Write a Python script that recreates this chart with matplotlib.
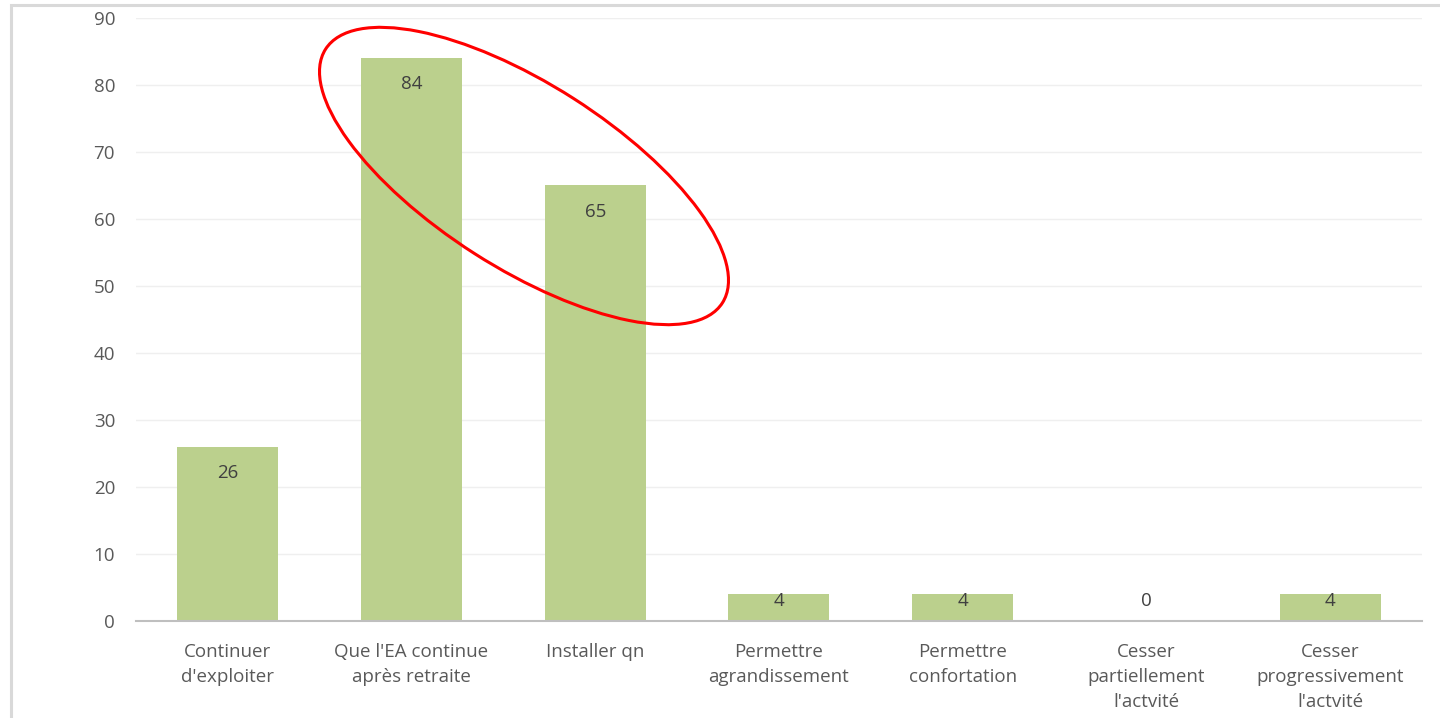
import matplotlib
matplotlib.use("Agg")
import matplotlib.pyplot as plt
from matplotlib.patches import Ellipse, Rectangle
from matplotlib.transforms import IdentityTransform

categories = [
    "Continuer\nd'exploiter",
    "Que l'EA continue\naprès retraite",
    "Installer qn",
    "Permettre\nagrandissement",
    "Permettre\nconfortation",
    "Cesser\npartiellement\nl'actvité",
    "Cesser\nprogressivement\nl'actvité",
]
values = [26, 84, 65, 4, 4, 0, 4]
y_ticks = [0, 10, 20, 30, 40, 50, 60, 70, 80, 90]

plt.rcParams['font.family'] = ['Open Sans', 'DejaVu Sans']

fig = plt.figure(figsize=(14.4, 7.18), dpi=100)
ax = fig.add_axes([0.0944, 0.1351, 0.8931, 0.8399])

x = list(range(len(categories)))
ax.bar(x, values, width=0.55, color='#BBD08D', zorder=2)

# data labels, "inside end" style
for i, v in enumerate(values):
    ax.text(i, max(v - 3.9, 3.05), str(v), ha='center', va='center',
            fontsize=13.5, color='#404040', zorder=3)

ax.set_xlim(-0.5, len(categories) - 0.5)
ax.set_ylim(0, 90)
ax.set_yticks(y_ticks)
ax.set_xticks(x)
ax.set_xticklabels(categories, fontsize=13.5, color='#595959', linespacing=1.5)
ax.tick_params(axis='y', length=0, pad=15, labelsize=13.5, labelcolor='#595959')
ax.tick_params(axis='x', length=0, pad=15.5)
ax.grid(axis='y', color='#EFEFEF', linewidth=1, zorder=0)
for s in ['top', 'right', 'left']:
    ax.spines[s].set_visible(False)
ax.spines['bottom'].set_color('#BFBFBF')
ax.spines['bottom'].set_linewidth(1.5)

# outer frame of the chart area (only left and top visible)
fig.patches.append(Rectangle((11 / 1440, -0.1), 1.2, 1.1 - 5 / 718,
                             transform=fig.transFigure, fill=False,
                             edgecolor='#D9D9D9', linewidth=2.2))

# red highlight ellipse, drawn in pixel coordinates
ell = Ellipse((524, 718 - 176), width=471, height=184, angle=-32.6,
              transform=IdentityTransform(), fill=False,
              edgecolor='#FF0000', linewidth=2.2, zorder=5)
fig.patches.append(ell)

fig.savefig('out.png', dpi=100)
